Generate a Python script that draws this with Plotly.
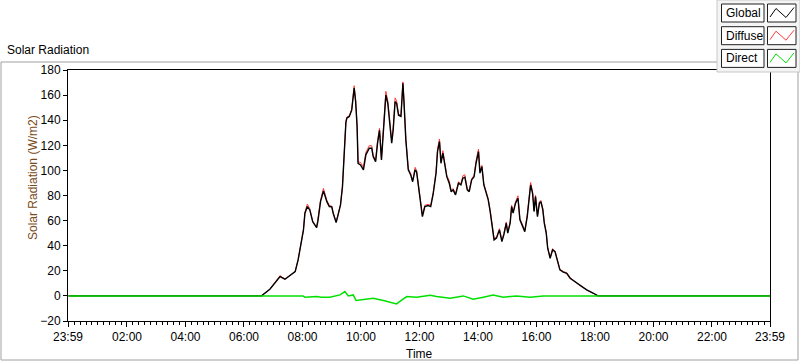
import plotly.graph_objects as go

# ---------------- data ----------------
times = ["00:00", "06:36", "06:53", "07:14", "07:24", "07:34", "07:45", "07:51", "07:58", "08:02",
         "08:05", "08:10", "08:15", "08:21", "08:29", "08:32", "08:37", "08:43", "08:50", "08:55",
         "09:00", "09:03", "09:09", "09:13", "09:18", "09:22", "09:24", "09:26", "09:29", "09:31",
         "09:36", "09:41", "09:46", "09:49", "09:52", "09:54", "09:59", "10:05", "10:10", "10:17",
         "10:22", "10:25", "10:30", "10:34", "10:38", "10:42", "10:48", "10:51", "10:55", "11:00",
         "11:03", "11:06", "11:10", "11:13", "11:17", "11:22", "11:26", "11:28", "11:32", "11:37",
         "11:42", "11:46", "11:51", "11:54", "11:58", "12:01", "12:06", "12:11", "12:18", "12:23",
         "12:28", "12:34", "12:37", "12:41", "12:44", "12:48", "12:52", "12:56", "13:01", "13:05",
         "13:09", "13:14", "13:20", "13:25", "13:29", "13:33", "13:38", "13:42", "13:47", "13:52",
         "13:56", "14:01", "14:04", "14:08", "14:12", "14:16", "14:21", "14:25", "14:28", "14:33",
         "14:38", "14:44", "14:49", "14:53", "14:58", "15:01", "15:06", "15:09", "15:12", "15:17",
         "15:22", "15:26", "15:32", "15:36", "15:41", "15:44", "15:48", "15:52", "15:55", "15:58",
         "16:02", "16:06", "16:09", "16:13", "16:16", "16:20", "16:23", "16:28", "16:33", "16:38",
         "16:43", "16:48", "16:55", "17:02", "17:09", "17:19", "17:29", "17:43", "17:57", "18:06",
         "23:59"]

global_rad = [0, 0, 5.3, 15.4, 13.3, 16, 19.4, 28.7, 44.6, 52.6,
              65.9, 71.2, 68.5, 59.2, 54.4, 60.6, 75.1, 83.7, 75.1, 71.2,
              71, 65.9, 58.4, 64.5, 72.5, 87, 105, 121.7, 138, 141.6,
              143, 148, 165.5, 155, 135, 105.7, 104.4, 100.4, 112.4, 117.7,
              117.7, 111, 107, 121.7, 132, 108.4, 145.6, 160, 153.5, 129.6,
              121.7, 132, 154.8, 153.5, 144, 143, 169.5, 156, 124.3, 100.4,
              96.4, 91, 100.4, 99, 87, 76.5, 63.2, 71.2, 72, 71.2,
              81, 97.8, 115, 123, 105.7, 113.7, 104.4, 95, 89.8, 83,
              84.5, 80.5, 89.8, 88.4, 93.8, 94.6, 84.5, 83, 92.4, 95,
              105.7, 115, 97.8, 103, 88.4, 83, 76.5, 67.2, 57.9, 44.6,
              46, 52.6, 43.3, 48.6, 57.9, 50, 57.9, 71.2, 65.9, 73.9,
              77.8, 60.6, 55, 51.2, 63.2, 76, 88.4, 81.8, 67.2, 79.1,
              63.2, 73.9, 75.1, 68.5, 57.9, 50, 38, 30, 36.6, 35.3,
              27.3, 20.7, 18.9, 18, 14.1, 11.4, 8, 4.8, 2.1, 0,
              0]

diffuse_rad = [0, 0, 5.3, 16.2, 13.3, 16, 19.4, 28.7, 44.6, 52.6,
               66.5, 73.2, 69.5, 59.2, 54.4, 61.2, 76.1, 85.7, 76.1, 72.2,
               71.5, 65.9, 59.4, 64.5, 73, 87, 105, 122.2, 139, 142.6,
               143.5, 149, 167.5, 156, 136, 106.7, 106.4, 102.4, 114.4, 119.7,
               119.7, 112, 108, 123.7, 133.5, 109.4, 147.6, 163, 155.5, 131.6,
               123.7, 134, 157.8, 155.5, 145, 144, 170.5, 157, 125.3, 101.4,
               97.4, 92, 102.4, 100, 88, 77.5, 64.2, 72.2, 73, 72.2,
               82, 98.8, 117, 125, 107.7, 115.7, 106.4, 96, 91.8, 84,
               85.5, 81.5, 90.8, 89.4, 95.8, 96.6, 85.5, 84, 93.4, 96,
               107.7, 117, 99.8, 104, 89.4, 84, 77.5, 68.2, 58.9, 45.6,
               47, 53.6, 44.3, 49.6, 58.9, 51, 58.9, 72.2, 66.9, 74.9,
               79.8, 61.6, 56, 52.2, 64.2, 77, 90.4, 82.8, 68.2, 80.1,
               64.2, 74.9, 76.1, 69.5, 58.9, 50.5, 38.5, 30.5, 37.6, 35.8,
               27.8, 21.2, 19.4, 18.5, 14.6, 11.6, 8.2, 4.8, 2.1, 0,
               0]

direct_times = ["00:00", "08:01", "08:05", "08:29", "08:38", "08:56", "09:17", "09:27", "09:34", "09:44",
                "09:50", "10:05", "10:25", "10:46", "11:03", "11:13", "11:24", "11:34", "11:54", "12:22",
                "12:35", "13:03", "13:30", "13:50", "14:11", "14:31", "14:52", "15:19", "15:47", "16:14",
                "23:59"]
direct_rad = [0, 0, -1, -0.5, -1, -1, 0.8, 3.4, 0, 0.8,
              -3.7, -2.7, -1.9, -3.7, -5.3, -6.4, -3.2, -0.5, -1, 0.5,
              -0.5, -1.9, 0, -2.7, -1, 0.8, -1, 0, -1, 0,
              0]

tick_labels = ["23:59", "02:00", "04:00", "06:00", "08:00", "10:00", "12:00",
               "14:00", "16:00", "18:00", "20:00", "22:00", "23:59"]
y_ticks = [-20, 0, 20, 40, 60, 80, 100, 120, 140, 160, 180]
series_names = ["Global", "Diffuse", "Direct"]
series_colors = ["#000000", "#ff3b3b", "#00e000"]


def to_min(s):
    h, m = s.split(":")
    return int(h) * 60 + int(m)


# axis positions in minutes from midnight; left edge is 23:59 of previous day
tick_vals = [-1] + [to_min(t) for t in tick_labels[1:-1]] + [1439]

FONT = "Liberation Sans"
W, H = 800, 369
L, R, T, B = 68, 770, 70, 321   # plot area in pixels


def px(x):
    return (x - L) / (R - L)


def py(y):
    return (B - y) / (B - T)


fig = go.Figure()
fig.add_trace(go.Scatter(x=[to_min(t) for t in times], y=diffuse_rad, mode="lines",
                         name=series_names[1], line=dict(color=series_colors[1], width=1)))
fig.add_trace(go.Scatter(x=[to_min(t) for t in times], y=global_rad, mode="lines",
                         name=series_names[0], line=dict(color=series_colors[0], width=1.4)))
fig.add_trace(go.Scatter(x=[to_min(t) for t in direct_times], y=direct_rad, mode="lines",
                         name=series_names[2], line=dict(color=series_colors[2], width=1.5)))

shapes = []
# outer gray frame
shapes.append(dict(type="rect", xref="paper", yref="paper", x0=px(1), x1=px(798), y0=py(360), y1=py(62),
                   line=dict(color="#a0a0a0", width=1), fillcolor="rgba(0,0,0,0)", layer="below"))
# legend panel
shapes.append(dict(type="rect", xref="paper", yref="paper", x0=px(717), x1=px(800), y0=py(72), y1=py(0),
                   line=dict(color="#c8c8c8", width=1), fillcolor="#f4f4f4"))
annotations = []
for i, (name, col) in enumerate(zip(series_names, series_colors)):
    dy = i * 22.7
    shapes.append(dict(type="rect", xref="paper", yref="paper", x0=px(721.5), x1=px(764), y0=py(22 + dy),
                       y1=py(4 + dy), line=dict(color="#202020", width=1), fillcolor="#ffffff"))
    shapes.append(dict(type="rect", xref="paper", yref="paper", x0=px(767.5), x1=px(796), y0=py(22 + dy),
                       y1=py(4 + dy), line=dict(color="#202020", width=1), fillcolor="#ffffff"))
    zx = [770, 776, 786, 794]
    zy = [17, 8.5, 17.5, 7.5]
    path = "M " + " L ".join(f"{px(a)},{py(b + dy)}" for a, b in zip(zx, zy))
    shapes.append(dict(type="path", xref="paper", yref="paper", path=path,
                       line=dict(color=col, width=1)))
    annotations.append(dict(text=name, xref="paper", yref="paper", x=px(723.5), y=py(13 + dy),
                            xanchor="left", yanchor="middle", showarrow=False,
                            font=dict(family=FONT, size=12, color="#000000")))

annotations.append(dict(text="Solar Radiation", xref="paper", yref="paper", x=px(5), y=py(50),
                        xanchor="left", yanchor="middle", showarrow=False,
                        font=dict(family=FONT, size=12, color="#000000")))
# y-axis title (placed as in the reference, slightly above centre)
annotations.append(dict(text="Solar Radiation (W/m2)", xref="paper", yref="paper", x=px(33), y=py(178),
                        xanchor="center", yanchor="middle", showarrow=False, textangle=-90,
                        font=dict(family=FONT, size=12, color="#7a4a1a")))
# x-axis title
annotations.append(dict(text="Time", xref="paper", yref="paper", x=0.5, y=py(354),
                        xanchor="center", yanchor="middle", showarrow=False,
                        font=dict(family=FONT, size=12, color="#000000")))

fig.update_layout(
    width=W, height=H,
    margin=dict(l=L, r=W - R, t=T, b=H - B, autoexpand=False),
    paper_bgcolor="#ffffff", plot_bgcolor="#ffffff",
    showlegend=False,
    shapes=shapes, annotations=annotations,
    font=dict(family=FONT, size=12, color="#000000"),
)
fig.update_xaxes(
    range=[-1, 1439], tickmode="array", tickvals=tick_vals, ticktext=tick_labels,
    ticks="outside", ticklen=5, tickcolor="#000000", showgrid=False, zeroline=False,
    showline=True, linecolor="#000000", linewidth=1, mirror=True, automargin=False,
    tickfont=dict(family=FONT, size=12, color="#000000"),
    minor=dict(tickmode="linear", tick0=0, dtick=12, ticks="outside", ticklen=3, tickcolor="#000000"),
)
fig.update_yaxes(
    range=[-20, 180], tickmode="array", tickvals=y_ticks,
    ticks="outside", ticklen=4, tickcolor="#000000", showgrid=False, zeroline=False,
    showline=True, linecolor="#000000", linewidth=1, mirror=True, automargin=False,
    tickfont=dict(family=FONT, size=12, color="#000000"),
)

fig.write_html(
    "out.html",
    config={"responsive": False, "displayModeBar": False},
    post_script=(
        "document.body.style.margin='0';document.body.style.overflow='hidden';"
    ),
)
